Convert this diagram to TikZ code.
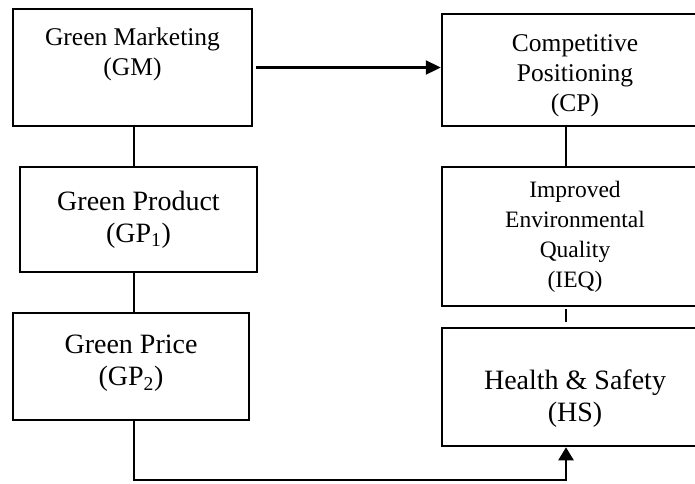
\documentclass[tikz,border=0pt]{standalone}
\usepackage{fontspec}
\setmainfont{Liberation Serif}
\usetikzlibrary{arrows.meta}

\tikzset{
    box/.style={draw, line width=2.5pt, inner sep=0pt},
    txt/.style={align=center, inner sep=0pt},
    link/.style={line width=2.3pt},
    big/.style={font=\fontsize{28}{32}\selectfont},
    mid/.style={font=\fontsize{25.5}{30}\selectfont},
    small/.style={font=\fontsize{23.5}{30}\selectfont}
}

\begin{document}
\begin{tikzpicture}[x=1pt, y=-1pt]
        \useasboundingbox (0, 0) rectangle (695, 483);
        % left column
        \node[box, minimum width=239, minimum height=117] (gm) at (132.5, 67.5) {};
        \node[box, minimum width=237, minimum height=105] (gp1) at (138.5, 219.5) {};
        \node[box, minimum width=236, minimum height=107] (gp2) at (131, 366.5) {};
        \node[txt, mid] (gmtext) at ([yshift=13.5]gm.center) {Green Marketing\\(GM)};
        \node[txt, big] (gp1text) at (gp1.center) {Green Product\\(GP\textsubscript{1})};
        \node[txt, big] (gp2text) at ([yshift=3]gp2.center) {Green Price\\(GP\textsubscript{2})};
        % right column
        \node[box, minimum width=266, minimum height=112] (cp) at (575, 70) {};
        \node[box, minimum width=266, minimum height=139] (ieq) at (575, 236.5) {};
        \node[box, minimum width=266, minimum height=118] (hs) at (575, 387) {};
        \node[txt, mid] (cptext) at ([yshift=-6]cp.center) {Competitive\\Positioning\\(CP)};
        \node[txt, small] (ieqtext) at (ieq.center) {Improved\\Environmental\\Quality\\(IEQ)};
        \node[txt, big] (hstext) at ([yshift=-12]hs.center) {Health \& Safety\\(HS)};
        \coordinate (bend) at (566, 480);
        % links
        \draw[link, -{Triangle[length=15pt, width=14pt]}, shorten <=3pt] (gm.east) -- (gm.east -| cp.west);
        \draw[link] (134, 0 |- gm.south) -- (134, 0 |- gp1.north);
        \draw[link] (134, 0 |- gp1.south) -- (134, 0 |- gp2.north);
        \draw[link] (cp.south -| bend) -- (ieq.north -| bend);
        \draw[link, shorten <=2pt, shorten >=5pt] (ieq.south -| bend) -- (hs.north -| bend);
        \draw[link, -{Triangle[length=13pt, width=15pt]}] (134, 0 |- gp2.south) |- (bend) -- (bend |- hs.south);
    \end{tikzpicture}
\end{document}
